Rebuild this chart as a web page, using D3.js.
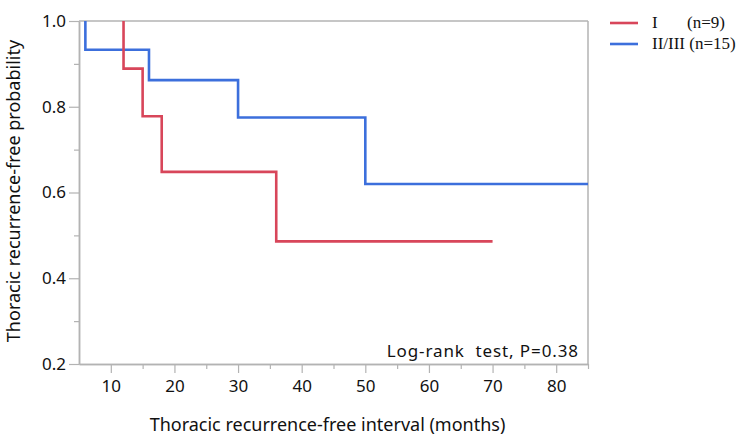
<!DOCTYPE html>
<html>
<head>
<meta charset="utf-8">
<script src="https://cdn.jsdelivr.net/npm/d3@7"></script>
<style>
  body { margin: 0; background: #fff; }
  text { font-family: "Noto Sans", sans-serif; }
</style>
</head>
<body>
<svg id="chart"></svg>
<script>
// Kaplan-Meier steps
const stageI_time = [12, 12, 15, 18, 36, 70];
const stageI_surv = [1.0, 0.889, 0.778, 0.648, 0.486, 0.486];
const stageII_time = [6, 6, 16, 30, 50, 85];
const stageII_surv = [1.0, 0.933, 0.862, 0.775, 0.620, 0.620];

const legendLabels = ["I", "II/III (n=15)"];
const xTicks = [10, 20, 30, 40, 50, 60, 70, 80];
const xMinor = [15, 25, 35, 45, 55, 65, 75, 85];
const yTicks = [0.2, 0.4, 0.6, 0.8, 1.0];
const yMinor = [0.3, 0.5, 0.7, 0.9];

const W = 751, H = 444;
const margin = { top: 21, right: 163, bottom: 80, left: 79 };
const width = W - margin.left - margin.right,
    height = H - margin.top - margin.bottom;

const svg = d3.select("#chart").attr("width", W).attr("height", H);
const g = svg.append("g").attr("transform", `translate(${margin.left},${margin.top})`);

const x = d3.scaleLinear().domain([5, 85]).range([0, width]);
const y = d3.scaleLinear().domain([0.2, 1.0]).range([height, 0]);

const gray = "#b3b3b3";

// frame top / right
g.append("line").attr("x1", 0).attr("x2", width).attr("y1", 0).attr("y2", 0)
    .attr("stroke", gray).attr("stroke-width", 1.5);
g.append("line").attr("x1", width).attr("x2", width).attr("y1", 0).attr("y2", height)
    .attr("stroke", gray).attr("stroke-width", 1.5);

// axes
g.append("g").attr("transform", `translate(0,${height})`)
    .call(d3.axisBottom(x).tickValues(xTicks).tickSize(9).tickSizeOuter(0).tickPadding(7).tickFormat(d3.format("d")));
g.append("g").attr("transform", `translate(0,${height})`)
    .call(d3.axisBottom(x).tickValues(xMinor).tickSize(5).tickSizeOuter(0).tickFormat(""));
g.append("g")
    .call(d3.axisLeft(y).tickValues(yTicks).tickSize(10).tickSizeOuter(0).tickPadding(3).tickFormat(d3.format(".1f")));
g.append("g")
    .call(d3.axisLeft(y).tickValues(yMinor).tickSize(5).tickSizeOuter(0).tickFormat(""));

g.selectAll(".domain").attr("stroke", gray).attr("stroke-width", 1.5);
g.selectAll(".tick line").attr("stroke", gray).attr("stroke-width", 1.2);
g.selectAll(".tick text").attr("fill", "#111").style("font-size", "17px")
    .style("font-family", "'Noto Sans', sans-serif");

// curves
const step = d3.line().x(d => x(d[0])).y(d => y(d[1])).curve(d3.curveStepAfter);
const curves = [
    { t: stageII_time, s: stageII_surv, color: "#3c6fdc" },
    { t: stageI_time, s: stageI_surv, color: "#d8465a" }
];
curves.forEach(c => {
    const pts = c.t.map((t, i) => [t, c.s[i]]);
    g.append("path").datum(pts).attr("d", step)
        .attr("fill", "none").attr("stroke", c.color).attr("stroke-width", 2.6);
});

// log-rank text
g.append("text").attr("x", width - 9).attr("y", y(0.2) - 7)
    .attr("text-anchor", "end").style("font-size", "17px").style("letter-spacing", "0.9px")
    .attr("fill", "#111")
    .text("Log-rank\u00a0\u00a0test, P=0.38");

// axis titles
svg.append("text").attr("x", margin.left + width / 2 - 6).attr("y", 431)
    .attr("text-anchor", "middle").style("font-size", "18px").attr("fill", "#111")
    .text("Thoracic recurrence-free interval (months)");
svg.append("text").attr("transform", `translate(20,${191}) rotate(-90)`)
    .attr("text-anchor", "middle").style("font-size", "18px").attr("fill", "#111")
    .text("Thoracic recurrence-free probability");

// legend
const leg = svg.append("g").attr("transform", "translate(610,0)");
[["#d8465a", 23], ["#3c6fdc", 44]].forEach(([col, yy], i) => {
    leg.append("line").attr("x1", 0).attr("x2", 28).attr("y1", yy).attr("y2", yy)
        .attr("stroke", col).attr("stroke-width", 2.6);
    leg.append("text").attr("x", 42).attr("y", yy + 5)
        .style("font-family", "'Liberation Serif', serif").style("font-size", "17px")
        .attr("fill", "#111").text(legendLabels[i]);
});
leg.append("text").attr("x", 77).attr("y", 28)
    .style("font-family", "'Liberation Serif', serif").style("font-size", "17px")
    .attr("fill", "#111").text("(n=9)");
</script>
</body>
</html>
